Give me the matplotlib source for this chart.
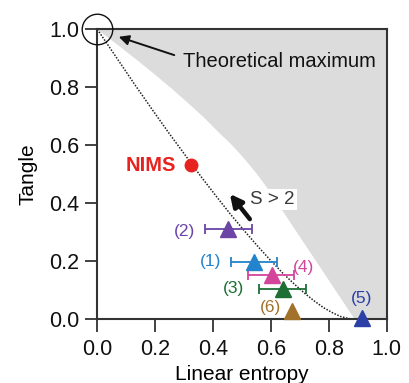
import matplotlib
matplotlib.use("Agg")
import matplotlib.pyplot as plt

plt.rcParams['font.family'] = ['Liberation Sans', 'DejaVu Sans']

# Theoretical maximum boundary
bound_entropy = [0.0, 0.066, 0.130, 0.192, 0.252, 0.309, 0.364, 0.414, 0.466, 0.511, 0.552, 0.593, 0.889, 1.0]
bound_tangle  = [1.0, 0.95, 0.90, 0.85, 0.80, 0.75, 0.70, 0.65, 0.60, 0.55, 0.50, 0.444, 0.0, 0.0]

# Dotted curve
curve_entropy = [0.0, 0.066, 0.129, 0.190, 0.249, 0.306, 0.360, 0.412, 0.462, 0.510, 0.556,
                 0.599, 0.640, 0.679, 0.716, 0.750, 0.782, 0.812, 0.840, 0.866, 0.889, 0.92]
curve_tangle  = [1.0, 0.903, 0.810, 0.723, 0.640, 0.563, 0.490, 0.423, 0.360, 0.303, 0.250,
                 0.203, 0.160, 0.123, 0.090, 0.063, 0.040, 0.023, 0.010, 0.003, 0.0, 0.0]

# Experimental points
labels   = ["(1)", "(2)", "(3)", "(4)", "(5)", "(6)"]
pt_x     = [0.541, 0.450, 0.641, 0.603, 0.914, 0.673]
pt_y     = [0.197, 0.310, 0.106, 0.153, 0.004, 0.029]
err_lo   = [0.461, 0.372, 0.560, 0.520, None, None]
err_hi   = [0.622, 0.533, 0.720, 0.680, None, None]
colors   = ["#2383cc", "#6b44a6", "#1d6f36", "#d3459b", "#2b3fa6", "#a2722b"]
lab_x    = [0.392, 0.303, 0.472, 0.714, 0.914, 0.599]
lab_y    = [0.199, 0.304, 0.107, 0.178, 0.072, 0.041]

nims_x, nims_y = 0.323, 0.531

fig = plt.figure(figsize=(4.10, 3.83), dpi=100)
ax = fig.add_axes([0.2373, 0.1663, 0.7059, 0.7572])

ax.fill_between(bound_entropy, bound_tangle, 1.0, color="#dcdcdc", lw=0, zorder=1)
ax.plot(curve_entropy, curve_tangle, color="#222222", lw=1.1, ls=(0, (1, 1)), zorder=2)

for i in range(len(labels)):
    if err_lo[i] is not None:
        ax.errorbar(pt_x[i], pt_y[i], xerr=[[pt_x[i] - err_lo[i]], [err_hi[i] - pt_x[i]]],
                    fmt="none", ecolor=colors[i], elinewidth=1.3, capsize=3.5, capthick=1.3, zorder=3)
    ax.plot(pt_x[i], pt_y[i], marker="^", color=colors[i], markersize=11, ls="none",
            zorder=4, clip_on=False)
    ax.text(lab_x[i], lab_y[i], labels[i], color=colors[i], fontsize=12.5, ha="center",
            va="center", zorder=5)

ax.plot(nims_x, nims_y, marker="o", color="#e8231f", markersize=9, ls="none", zorder=4)
ax.text(0.272, nims_y, "NIMS", color="#e8231f", fontsize=14.5, fontweight="bold",
        ha="right", va="center", zorder=5)

# Theoretical maximum circle and arrow
ax.plot(0.0, 1.0, marker="o", markersize=22, markerfacecolor="none",
        markeredgecolor="#111111", markeredgewidth=1.0, ls="none", clip_on=False, zorder=6)
ax.annotate("", xy=(0.065, 0.977), xytext=(0.275, 0.908),
            arrowprops=dict(arrowstyle="-|>", color="#111111", lw=1.4, mutation_scale=15),
            zorder=6)
ax.text(0.295, 0.888, "Theoretical maximum", fontsize=14.5, color="#111111",
        ha="left", va="center", zorder=6)

# S > 2 annotation
ax.text(0.528, 0.414, "S > 2", fontsize=13.5, color="#3a3a3a", ha="left", va="center",
        bbox=dict(facecolor="white", edgecolor="none", pad=1.5), zorder=5)
ax.annotate("", xy=(0.452, 0.440), xytext=(0.533, 0.338),
            arrowprops=dict(arrowstyle="-|>", color="#111111", lw=3.2, mutation_scale=18),
            zorder=6)

ax.set_xlim(0, 1)
ax.set_ylim(0, 1)
ax.set_xticks([0.0, 0.2, 0.4, 0.6, 0.8, 1.0])
ax.set_yticks([0.0, 0.2, 0.4, 0.6, 0.8, 1.0])
ax.set_xticklabels(["0.0", "0.2", "0.4", "0.6", "0.8", "1.0"])
ax.set_yticklabels(["0.0", "0.2", "0.4", "0.6", "0.8", "1.0"])
ax.tick_params(axis="both", direction="out", length=9, width=1.3, labelsize=15.5,
               color="#333333", labelcolor="#111111")
ax.tick_params(axis="x", pad=5)
ax.tick_params(axis="y", pad=4)
for s in ax.spines.values():
    s.set_color("#333333")
    s.set_linewidth(1.5)
ax.set_xlabel("Linear entropy", fontsize=15, labelpad=4)
ax.set_ylabel("Tangle", fontsize=15, labelpad=8)

fig.savefig("out.png", dpi=100)
